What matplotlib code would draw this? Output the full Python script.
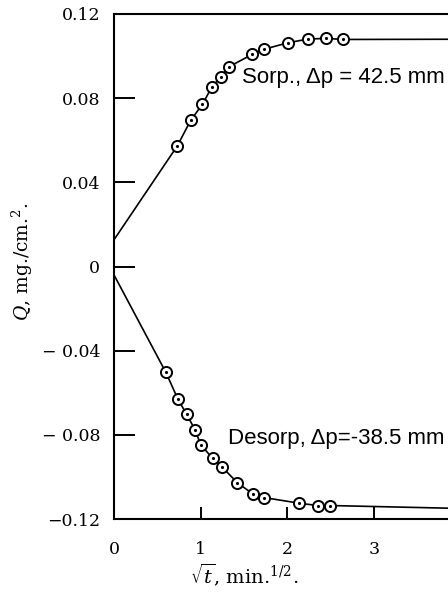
#!/usr/bin/env python
"""Sorption and desorption uptake Q against square root of time."""

import matplotlib
matplotlib.use('Agg')
import matplotlib.pyplot as plt

# sorption run, delta p = 42.5 mm
sorp_t = [0.73, 0.885, 1.02, 1.126, 1.23, 1.325, 1.594, 1.728, 2.003, 2.238,
          2.448, 2.647]
sorp_q = [0.0573, 0.0695, 0.0771, 0.0851, 0.0901, 0.0949, 0.1008, 0.1032,
          0.1063, 0.1081, 0.1084, 0.1079]
sorp_start = 0.0127
sorp_end = 0.1080

# desorption run, delta p = -38.5 mm
desorp_t = [0.598, 0.739, 0.839, 0.935, 1.0, 1.138, 1.245, 1.421, 1.605,
            1.728, 2.138, 2.349, 2.494]
desorp_q = [-0.0503, -0.0632, -0.0703, -0.0776, -0.0847, -0.0912, -0.0952,
            -0.1027, -0.1082, -0.1098, -0.1125, -0.1136, -0.1136]
desorp_start = -0.0040
desorp_end = -0.1149

t_max = 3.9
xticks = [0, 1, 2, 3]
yticks = [-0.12, -0.08, -0.04, 0, 0.04, 0.08, 0.12]
ytick_labels = ['\u22120.12', '\u2212 0.08', '\u2212 0.04', '0', '0.04',
                '0.08', '0.12']


def draw_run(ax, t, q, start, end):
    """Draw the fitted line and circle-dot markers of one run."""
    ax.plot([0] + t + [t_max], [start] + q + [end], color='black', lw=1.2,
            zorder=2)
    ax.plot(t, q, 'o', ms=8, mfc='white', mec='black', mew=1.4, zorder=3)
    ax.plot(t, q, '.', ms=2.5, color='black', zorder=4)


def main():
    plt.rcParams['font.family'] = 'DejaVu Serif'
    plt.rcParams['mathtext.fontset'] = 'dejavuserif'

    fig = plt.figure(figsize=(4.48, 5.93), dpi=100)
    ax = fig.add_axes([114/448, 1-519/593, 1-114/448, 505/593])

    draw_run(ax, sorp_t, sorp_q, sorp_start, sorp_end)
    draw_run(ax, desorp_t, desorp_q, desorp_start, desorp_end)

    ax.set_xlim(0, (448-114)/86.7)
    ax.set_ylim(-0.12, 0.12)
    ax.spines['right'].set_visible(False)
    for side in ['left', 'top', 'bottom']:
        ax.spines[side].set_linewidth(1.5)

    ax.set_xticks(xticks)
    ax.set_xticklabels([str(x) for x in xticks])
    ax.set_yticks(yticks)
    ax.set_yticklabels(ytick_labels)
    ax.tick_params(axis='x', direction='in', length=8.8, width=1.4,
                   pad=16, labelsize=12.5)
    ax.tick_params(axis='y', direction='in', length=15, width=1.4,
                   pad=10, labelsize=12.5)

    # curve labels
    ax.text(1.473, 0.0871, 'Sorp., \u0394p = 42.5 mm', family='Liberation Sans',
            fontsize=16, va='baseline')
    ax.text(1.318, -0.0843, 'Desorp, \u0394p=-38.5 mm',
            family='Liberation Sans', fontsize=16, va='baseline')

    # axis labels
    fig.text(244.5/448, 1-575/593, r'$\sqrt{t}$, min.$^{1/2}$.',
             ha='center', va='center', fontsize=14)
    fig.text(22/448, 1-262/593, r'$Q$, mg./cm.$^{2}$.', rotation=90,
             ha='center', va='center', fontsize=13.5)

    fig.savefig('out.png', dpi=100)


if __name__ == '__main__':
    main()
